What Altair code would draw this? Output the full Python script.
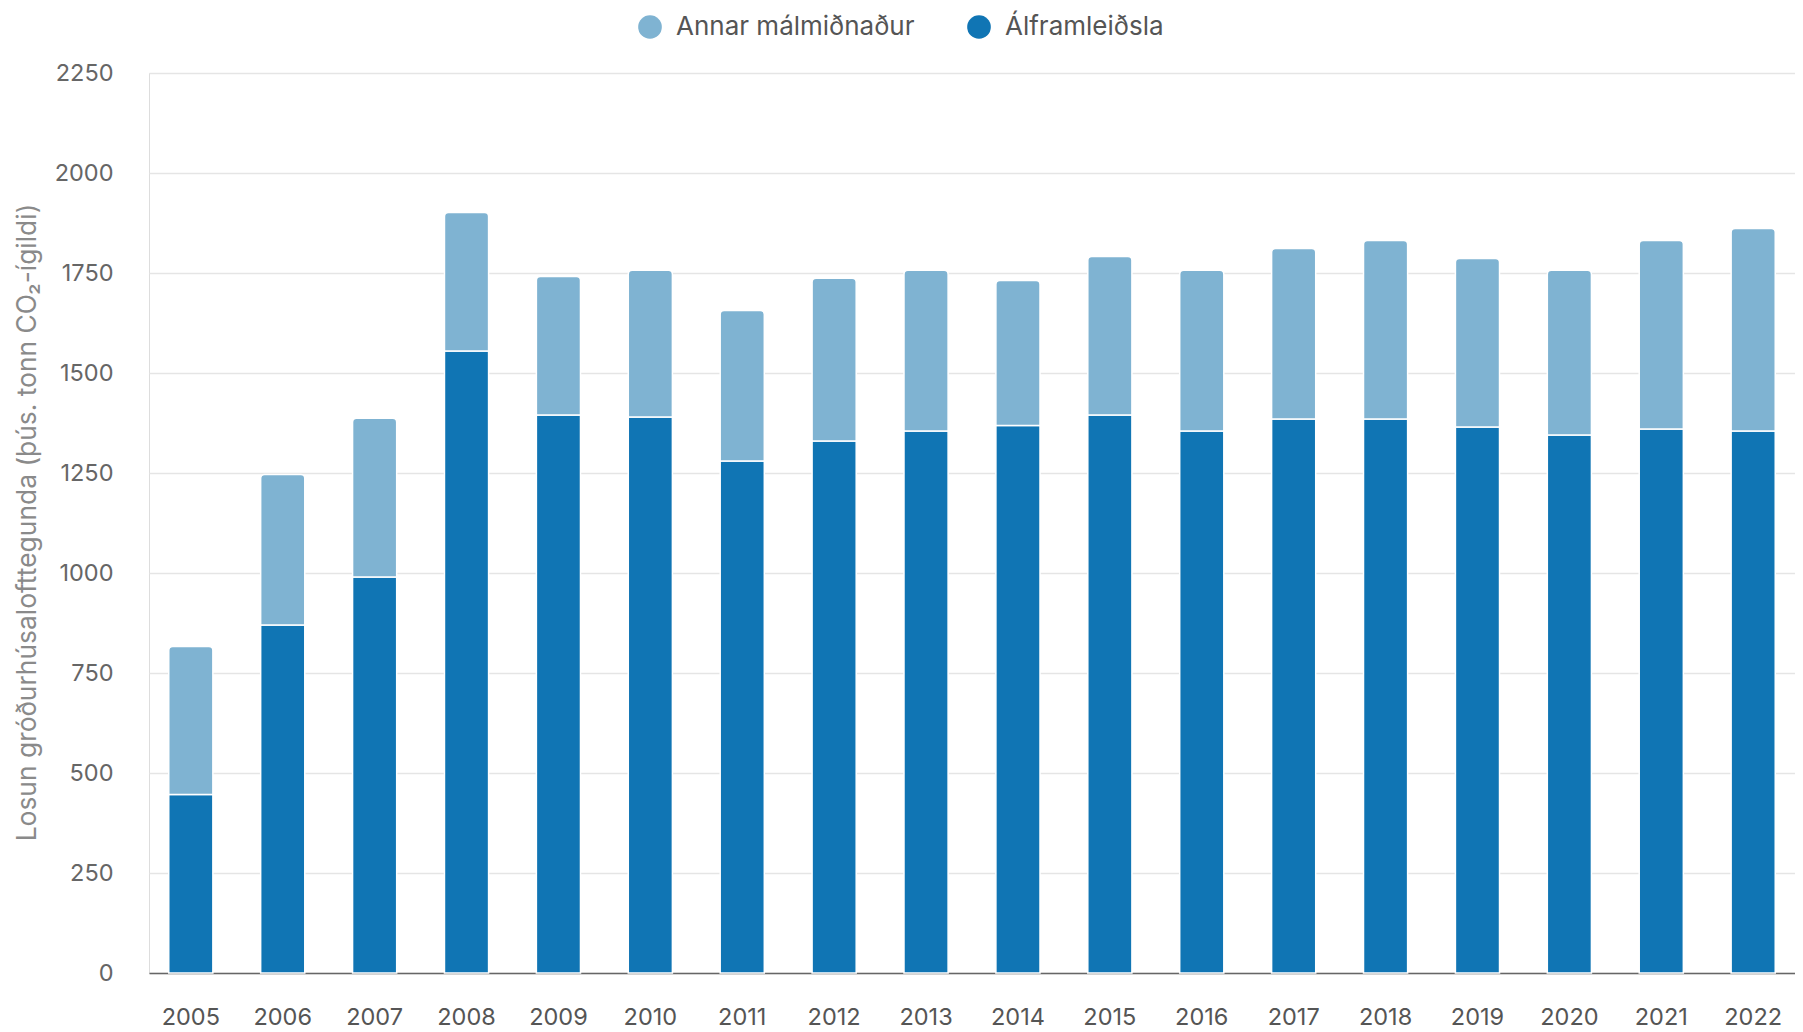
import altair as alt
import pandas as pd

years = [str(y) for y in range(2005, 2023)]
alframleidsla = [446, 870, 990, 1555, 1395, 1390, 1280, 1330, 1355, 1369,
                 1395, 1355, 1385, 1385, 1365, 1345, 1360, 1355]
annar = [370, 376, 397, 346, 346, 367, 376, 407, 402, 362,
         396, 402, 426, 446, 421, 412, 471, 506]
series = ["Annar málmiðnaður", "Álframleiðsla"]
colors = ["#7fb3d2", "#1075b4"]
y_ticks = [0, 250, 500, 750, 1000, 1250, 1500, 1750, 2000, 2250]
y_title = "Losun gróðurhúsalofttegunda (þús. tonn CO₂-ígildi)"

rows = []
for yr, a, b in zip(years, alframleidsla, annar):
    rows.append({"ar": yr, "flokkur": "Álframleiðsla", "fra": 0, "til": a})
    rows.append({"ar": yr, "flokkur": "Annar málmiðnaður", "fra": a, "til": a + b})
df = pd.DataFrame(rows)

FONT = "Inter"

color = alt.Color(
    "flokkur:N",
    scale=alt.Scale(domain=series, range=colors),
    legend=alt.Legend(
        title=None, orient="none", direction="horizontal",
        legendX=488, legendY=-59, padding=0,
        symbolType="circle", symbolSize=560, symbolStrokeWidth=0, symbolOpacity=1,
        labelFont=FONT, labelFontSize=26, labelColor="#555555", labelLimit=600,
        labelOffset=13, columnPadding=51,
    ),
)
x = alt.X(
    "ar:O", title=None,
    scale=alt.Scale(paddingInner=0.52, paddingOuter=0.215),
    axis=alt.Axis(labelAngle=0, ticks=False, labelPadding=32, labelFont=FONT,
                  labelFontSize=23.5, labelColor="#555555", domainColor="#666666",
                  domainWidth=1.5, grid=False),
)
y = alt.Y(
    "fra:Q", title=y_title,
    scale=alt.Scale(domain=[0, 2250], nice=False),
    axis=alt.Axis(values=y_ticks, format="d", ticks=False, domain=False,
                  labelPadding=36, labelFont=FONT, labelFontSize=23.5,
                  labelColor="#666666", gridColor="#e5e5e5", gridWidth=1.5,
                  titleFont=FONT, titleFontSize=26.4, titleFontWeight="normal",
                  titleColor="#8a8a8a", titleX=-122, titleY=449, titleAngle=270,
                  titleAlign="center", titleBaseline="middle"),
)

base = alt.Chart(df)
bottom = base.transform_filter(alt.datum.flokkur == "Álframleiðsla").mark_bar(
    stroke="white", strokeWidth=1.5
).encode(x=x, y=y, y2="til:Q", color=color)
top = base.transform_filter(alt.datum.flokkur == "Annar málmiðnaður").mark_bar(
    stroke="white", strokeWidth=1.5, cornerRadiusTopLeft=4, cornerRadiusTopRight=4
).encode(x=x, y=y, y2="til:Q", color=color)

chart = alt.layer(bottom, top).properties(
    width=1646, height=900,
    padding={"left": 141, "top": 65, "right": 0, "bottom": 57},
    autosize=alt.AutoSizeParams(type="none"),
).configure_view(strokeWidth=0, stroke="transparent").configure(background="white")

chart.save("out.html", embed_options={"renderer": "svg", "actions": False})
